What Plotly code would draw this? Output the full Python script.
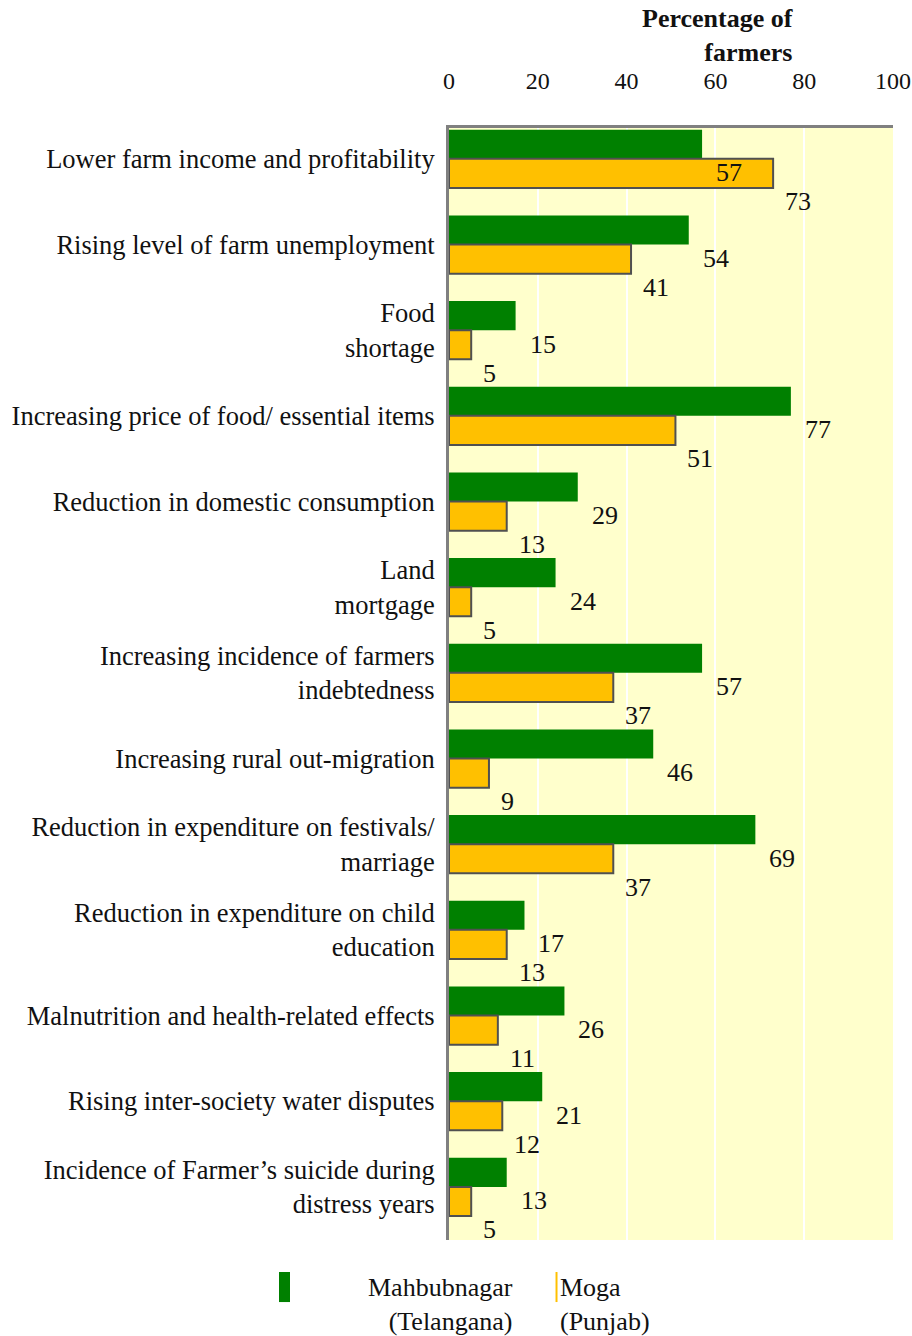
import plotly.graph_objects as go

# Survey responses: share of farmers reporting each effect of distress
categories = [
    "Lower farm income and profitability",
    "Rising level of farm unemployment",
    "Food<br>shortage",
    "Increasing price of food/ essential items",
    "Reduction in domestic consumption",
    "Land<br>mortgage",
    "Increasing incidence of farmers<br>indebtedness",
    "Increasing rural out-migration",
    "Reduction in expenditure on festivals/<br>marriage",
    "Reduction in expenditure on child<br>education",
    "Malnutrition and health-related effects",
    "Rising inter-society water disputes",
    "Incidence of Farmer\u2019s suicide during<br>distress years",
]
mahbubnagar = [57, 54, 15, 77, 29, 24, 57, 46, 69, 17, 26, 21, 13]
moga = [73, 41, 5, 51, 13, 5, 37, 9, 37, 13, 11, 12, 5]

series_names = ["Mahbubnagar<br>(Telangana)", "Moga<br>(Punjab)"]
x_ticks = [0, 20, 40, 60, 80, 100]

GREEN = "#008000"
ORANGE = "#FFC000"
FONT = "Liberation Serif"
TEXT = "#111111"

fig = go.Figure()
fig.add_trace(go.Bar(
    y=categories, x=mahbubnagar, orientation="h", name=series_names[0],
    marker=dict(color=GREEN, line=dict(width=0)),
))
fig.add_trace(go.Bar(
    y=categories, x=moga, orientation="h", name=series_names[1],
    marker=dict(color=ORANGE, line=dict(color="#505050", width=2)),
))

# value labels to the right of each bar end
for cat, v in zip(categories, mahbubnagar):
    fig.add_annotation(x=v, y=cat, xref="x", yref="y", text=str(v),
                       showarrow=False, xanchor="left", xshift=12, yshift=-14,
                       font=dict(family=FONT, size=26, color=TEXT))
for cat, v in zip(categories, moga):
    fig.add_annotation(x=v, y=cat, xref="x", yref="y", text=str(v),
                       showarrow=False, xanchor="left", xshift=10, yshift=-43,
                       font=dict(family=FONT, size=26, color=TEXT))

# axis title above the tick labels
fig.add_annotation(x=0.78, y=1.083, xref="paper", yref="paper",
                   text="<b>Percentage of<br>farmers</b>",
                   showarrow=False, xanchor="right", yanchor="middle", align="right",
                   font=dict(family=FONT, size=26, color=TEXT))

# legend below the plot: swatch + right-aligned name, swatch + left-aligned name
fig.add_shape(type="rect", xref="paper", yref="paper",
              x0=-0.3829, x1=-0.3581, y0=-0.0558, y1=-0.0288,
              fillcolor=GREEN, line=dict(width=0))
fig.add_annotation(x=0.1486, y=-0.0576, xref="paper", yref="paper",
                   text=series_names[0], showarrow=False,
                   xanchor="right", yanchor="middle", align="right",
                   font=dict(family=FONT, size=26, color=TEXT))
fig.add_shape(type="rect", xref="paper", yref="paper",
              x0=0.2399, x1=0.2444, y0=-0.0558, y1=-0.0288,
              fillcolor=ORANGE, line=dict(width=0))
fig.add_annotation(x=0.2455, y=-0.0576, xref="paper", yref="paper",
                   text=series_names[1], showarrow=False,
                   xanchor="left", yanchor="middle", align="left",
                   font=dict(family=FONT, size=26, color=TEXT))

fig.update_layout(
    width=912, height=1336,
    margin=dict(l=449, r=19, t=128, b=96, autoexpand=False),
    paper_bgcolor="white",
    plot_bgcolor="#FFFFCC",
    barmode="group",
    bargap=0.32,
    bargroupgap=0,
    font=dict(family=FONT, size=24, color=TEXT),
    showlegend=False,
    xaxis=dict(
        side="top", range=[0, 100], tickvals=x_ticks,
        showgrid=True, gridcolor="white", gridwidth=1.5,
        showline=True, linecolor="#808080", linewidth=3,
        zeroline=False, ticks="", ticklabelstandoff=26,
        tickfont=dict(family=FONT, size=24),
        automargin=False,
    ),
    yaxis=dict(
        range=[12.62, -0.36], showgrid=False,
        showline=True, linecolor="#808080", linewidth=3,
        ticks="", ticklabelstandoff=6,
        tickfont=dict(family=FONT, size=26.5),
        automargin=False,
    ),
)

fig.write_html("out.html")
